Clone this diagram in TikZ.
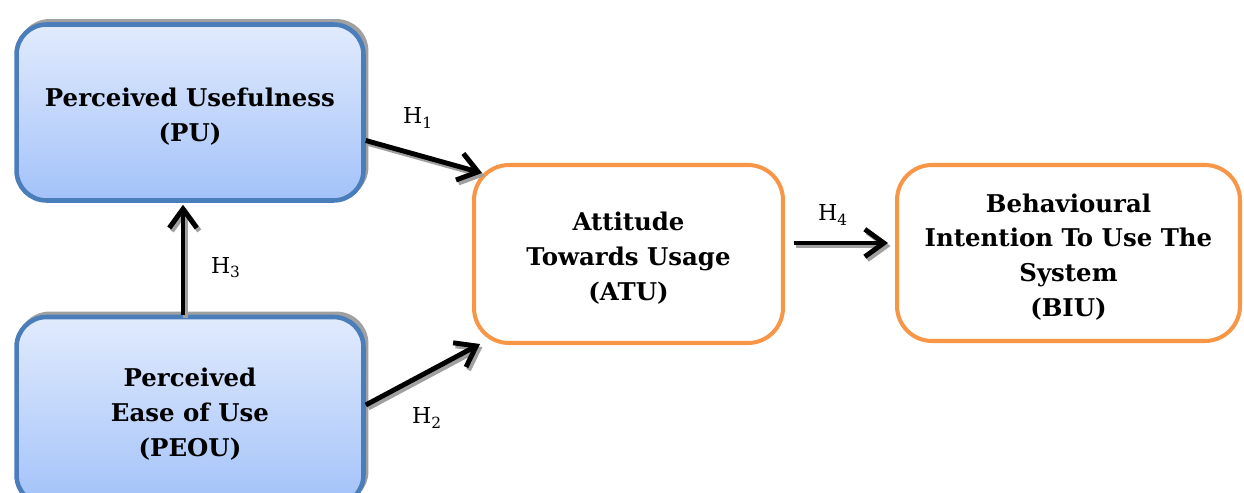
\documentclass[tikz,border=0pt]{standalone}
\usepackage{fontspec}
\setmainfont{DejaVu Serif}
\usetikzlibrary{arrows.meta,shadows,calc}
\definecolor{boxblue}{HTML}{4A7EBB}
\definecolor{filltop}{HTML}{E1EBFD}
\definecolor{fillbot}{HTML}{A3C2F9}
\definecolor{boxorange}{HTML}{F79646}
\definecolor{shadowgray}{HTML}{A0A0A0}
\begin{document}
\begin{tikzpicture}[x=0.02cm,y=-0.02cm,
  boxtext/.style={align=center, font=\bfseries\fontsize{13.9}{19.8}\selectfont},
  bluebox/.style={rounded corners=0.6cm, draw=boxblue, line width=2.6pt,
    top color=filltop, bottom color=fillbot,
    general shadow={draw=shadowgray, fill=shadowgray, line width=2.2pt,
      shadow xshift=0.06cm, shadow yshift=0.07cm}},
  orangebox/.style={rounded corners=0.7cm, draw=boxorange, line width=2.3pt, fill=white},
  arr/.style={line width=2.8pt, -{Straight Barb[length=0.38cm,width=0.55cm]}},
  arrsh/.style={arr, draw=shadowgray, transform canvas={shift={(0.05cm,-0.06cm)}}},
  hlabel/.style={font=\fontsize{12.5}{15}\selectfont, inner sep=0pt}]
\useasboundingbox (0,0) rectangle (1244,493);

% construct boxes
\node[bluebox, minimum width=6.94cm, minimum height=3.52cm] (pu) at (190,112.5) {};
\node[bluebox, minimum width=6.94cm, minimum height=3.76cm] (peou) at (190,411) {};
\node[orangebox, minimum width=6.18cm, minimum height=3.56cm] (atu) at (628.5,254) {};
\node[orangebox, minimum width=6.86cm, minimum height=3.52cm] (biu) at (1068.5,253) {};

% box captions, set slightly below each box centre
\node[boxtext] (pu-text) at ([yshift=-0.08cm]pu.center) {Perceived Usefulness\\(PU)};
\node[boxtext] (peou-text) at ([yshift=-0.06cm]peou.center) {Perceived\\Ease of Use\\(PEOU)};
\node[boxtext] (atu-text) at ([yshift=-0.08cm]atu.center) {Attitude\\Towards Usage\\(ATU)};
\node[boxtext] (biu-text) at ([yshift=-0.08cm]biu.center) {Behavioural\\Intention To Use The\\System\\(BIU)};

% hypothesis paths: gray shadow first, then the black arrow
\draw[arrsh] ([yshift=-0.56cm]pu.east) -- ([shift={(0.2cm,-0.2cm)}]atu.north west);
\draw[arr]   ([yshift=-0.56cm]pu.east) -- ([shift={(0.2cm,-0.2cm)}]atu.north west);

\draw[arrsh] ([yshift=0.12cm]peou.east) -- ([shift={(0.16cm,0.02cm)}]atu.south west);
\draw[arr]   ([yshift=0.12cm]peou.east) -- ([shift={(0.16cm,0.02cm)}]atu.south west);

\draw[arrsh] ([xshift=-0.14cm]peou.north) -- ([shift={(-0.14cm,-0.04cm)}]pu.south);
\draw[arr]   ([xshift=-0.14cm]peou.north) -- ([shift={(-0.14cm,-0.04cm)}]pu.south);

\draw[arrsh] ([shift={(0.18cm,0.22cm)}]atu.east) -- ([shift={(-0.14cm,0.2cm)}]biu.west);
\draw[arr]   ([shift={(0.18cm,0.22cm)}]atu.east) -- ([shift={(-0.14cm,0.2cm)}]biu.west);

% hypothesis labels
\node[hlabel] (h1) at (418,118) {H\textsubscript{1}};
\node[hlabel] (h2) at (427,418) {H\textsubscript{2}};
\node[hlabel] (h3) at (226,268) {H\textsubscript{3}};
\node[hlabel] (h4) at (833,215) {H\textsubscript{4}};
\end{tikzpicture}
\end{document}
